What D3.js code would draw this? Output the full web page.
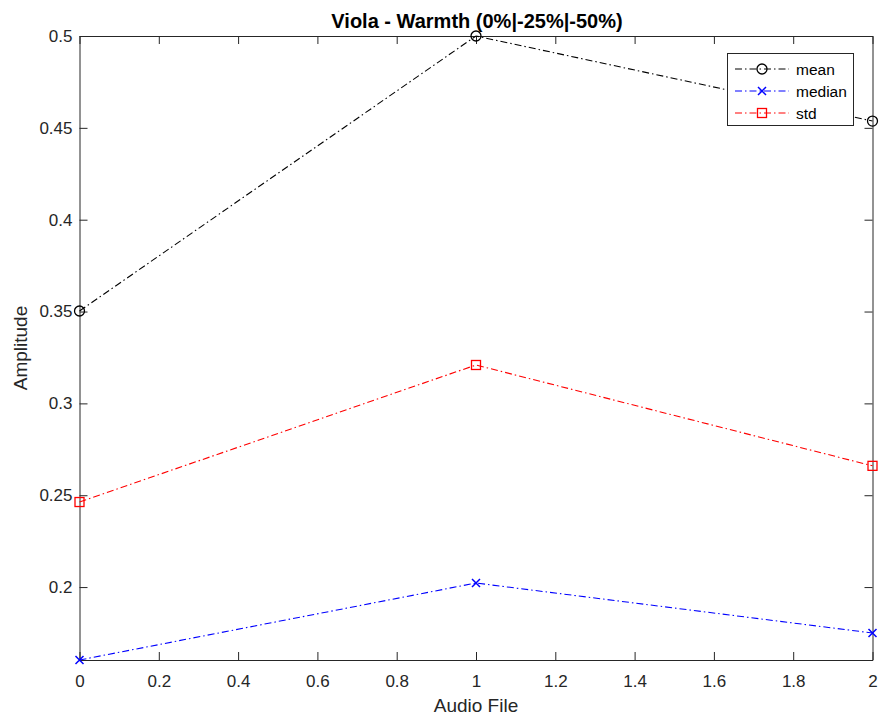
<!DOCTYPE html>
<html>
<head>
<meta charset="utf-8">
<script src="https://cdnjs.cloudflare.com/ajax/libs/d3/7.8.5/d3.min.js"></script>
<style>
body { margin: 0; background: #fff; }
svg text { font-family: "Liberation Sans", Arial, sans-serif; fill: #262626; }
</style>
</head>
<body>
<div id="chart"></div>
<script>
const xValues = [0, 1, 2];
const meanValues = [0.3503, 0.5, 0.4537];
const medianValues = [0.1603, 0.2022, 0.175];
const stdValues = [0.2463, 0.3209, 0.266];
const seriesNames = ["mean", "median", "std"];
const xTicks = [0, 0.2, 0.4, 0.6, 0.8, 1, 1.2, 1.4, 1.6, 1.8, 2];
const yTicks = [0.2, 0.25, 0.3, 0.35, 0.4, 0.45, 0.5];

const width = 879, height = 718;
const plotLeft = 79.5, plotRight = 872.5, plotTop = 36, plotBottom = 660;

const svg = d3.select("#chart").append("svg")
    .attr("width", width)
    .attr("height", height);

const x = d3.scaleLinear().domain([0, 2]).range([plotLeft, plotRight]);
const allY = meanValues.concat(medianValues, stdValues);
const y = d3.scaleLinear().domain([d3.min(allY), d3.max(allY)]).range([plotBottom, plotTop]);

const axisColor = "#262626";
const tickLen = 8;

// axes with inward ticks on all four sides
function styleAxis(g) {
    g.select(".domain").attr("stroke", axisColor).attr("stroke-width", 1);
    g.selectAll(".tick line").attr("stroke", axisColor);
    g.selectAll(".tick text").style("font-size", "17px").attr("fill", axisColor);
}

svg.append("g")
    .attr("transform", "translate(0," + plotBottom + ")")
    .call(d3.axisBottom(x).tickValues(xTicks).tickSizeInner(-tickLen).tickSizeOuter(0).tickPadding(15)
        .tickFormat(d3.format("~g")))
    .call(styleAxis);

svg.append("g")
    .attr("transform", "translate(0," + plotTop + ")")
    .call(d3.axisTop(x).tickValues(xTicks).tickSizeInner(-tickLen).tickSizeOuter(0).tickFormat(""))
    .call(styleAxis);

svg.append("g")
    .attr("transform", "translate(" + plotLeft + ",0)")
    .call(d3.axisLeft(y).tickValues(yTicks).tickSizeInner(-tickLen).tickSizeOuter(0).tickPadding(7)
        .tickFormat(d3.format("~g")))
    .call(styleAxis);

svg.append("g")
    .attr("transform", "translate(" + plotRight + ",0)")
    .call(d3.axisRight(y).tickValues(yTicks).tickSizeInner(-tickLen).tickSizeOuter(0).tickFormat(""))
    .call(styleAxis);

// title and labels
svg.append("text")
    .attr("x", 477)
    .attr("y", 28)
    .attr("text-anchor", "middle")
    .style("font-size", "20px")
    .style("font-weight", "bold")
    .style("fill", "#000")
    .text("Viola - Warmth (0%|-25%|-50%)");

svg.append("text")
    .attr("x", (plotLeft + plotRight) / 2)
    .attr("y", 712)
    .attr("text-anchor", "middle")
    .style("font-size", "19px")
    .text("Audio File");

svg.append("text")
    .attr("transform", "translate(27," + ((plotTop + plotBottom) / 2) + ") rotate(-90)")
    .attr("text-anchor", "middle")
    .style("font-size", "19px")
    .text("Amplitude");

const series = [
    { name: seriesNames[0], values: meanValues, color: "#000000", marker: "circle" },
    { name: seriesNames[1], values: medianValues, color: "#0000ff", marker: "cross" },
    { name: seriesNames[2], values: stdValues, color: "#ff0000", marker: "square" }
];

const line = d3.line()
    .x((d, i) => x(xValues[i]))
    .y(d => y(d));

const dash = "7,3,1.5,3";

function drawMarker(g, type, color) {
    if (type === "circle") {
        g.append("circle").attr("r", 5).attr("fill", "none").attr("stroke", color).attr("stroke-width", 1.3);
    } else if (type === "cross") {
        g.append("path").attr("d", "M-4,-4L4,4M-4,4L4,-4").attr("stroke", color).attr("stroke-width", 1.5);
    } else {
        g.append("rect").attr("x", -4.5).attr("y", -4.5).attr("width", 9).attr("height", 9)
            .attr("fill", "none").attr("stroke", color).attr("stroke-width", 1.3);
    }
}

series.forEach(function (s) {
    svg.append("path")
        .attr("d", line(s.values))
        .attr("fill", "none")
        .attr("stroke", s.color)
        .attr("stroke-width", 1.1)
        .attr("stroke-dasharray", dash);
    s.values.forEach(function (v, i) {
        const g = svg.append("g").attr("transform", "translate(" + x(xValues[i]) + "," + y(v) + ")");
        drawMarker(g, s.marker, s.color);
    });
});

// legend
const legend = svg.append("g");
legend.append("rect")
    .attr("x", 727.5).attr("y", 53.5).attr("width", 126).attr("height", 72)
    .attr("fill", "#fff").attr("stroke", axisColor).attr("stroke-width", 1);

series.forEach(function (s, i) {
    const ly = 69 + i * 22;
    legend.append("line")
        .attr("x1", 735).attr("x2", 789).attr("y1", ly).attr("y2", ly)
        .attr("stroke", s.color).attr("stroke-dasharray", dash);
    const g = legend.append("g").attr("transform", "translate(762," + ly + ")");
    drawMarker(g, s.marker, s.color);
    legend.append("text")
        .attr("x", 796).attr("y", ly + 6)
        .style("font-size", "15.5px")
        .style("fill", "#000")
        .text(s.name);
});
</script>
</body>
</html>
